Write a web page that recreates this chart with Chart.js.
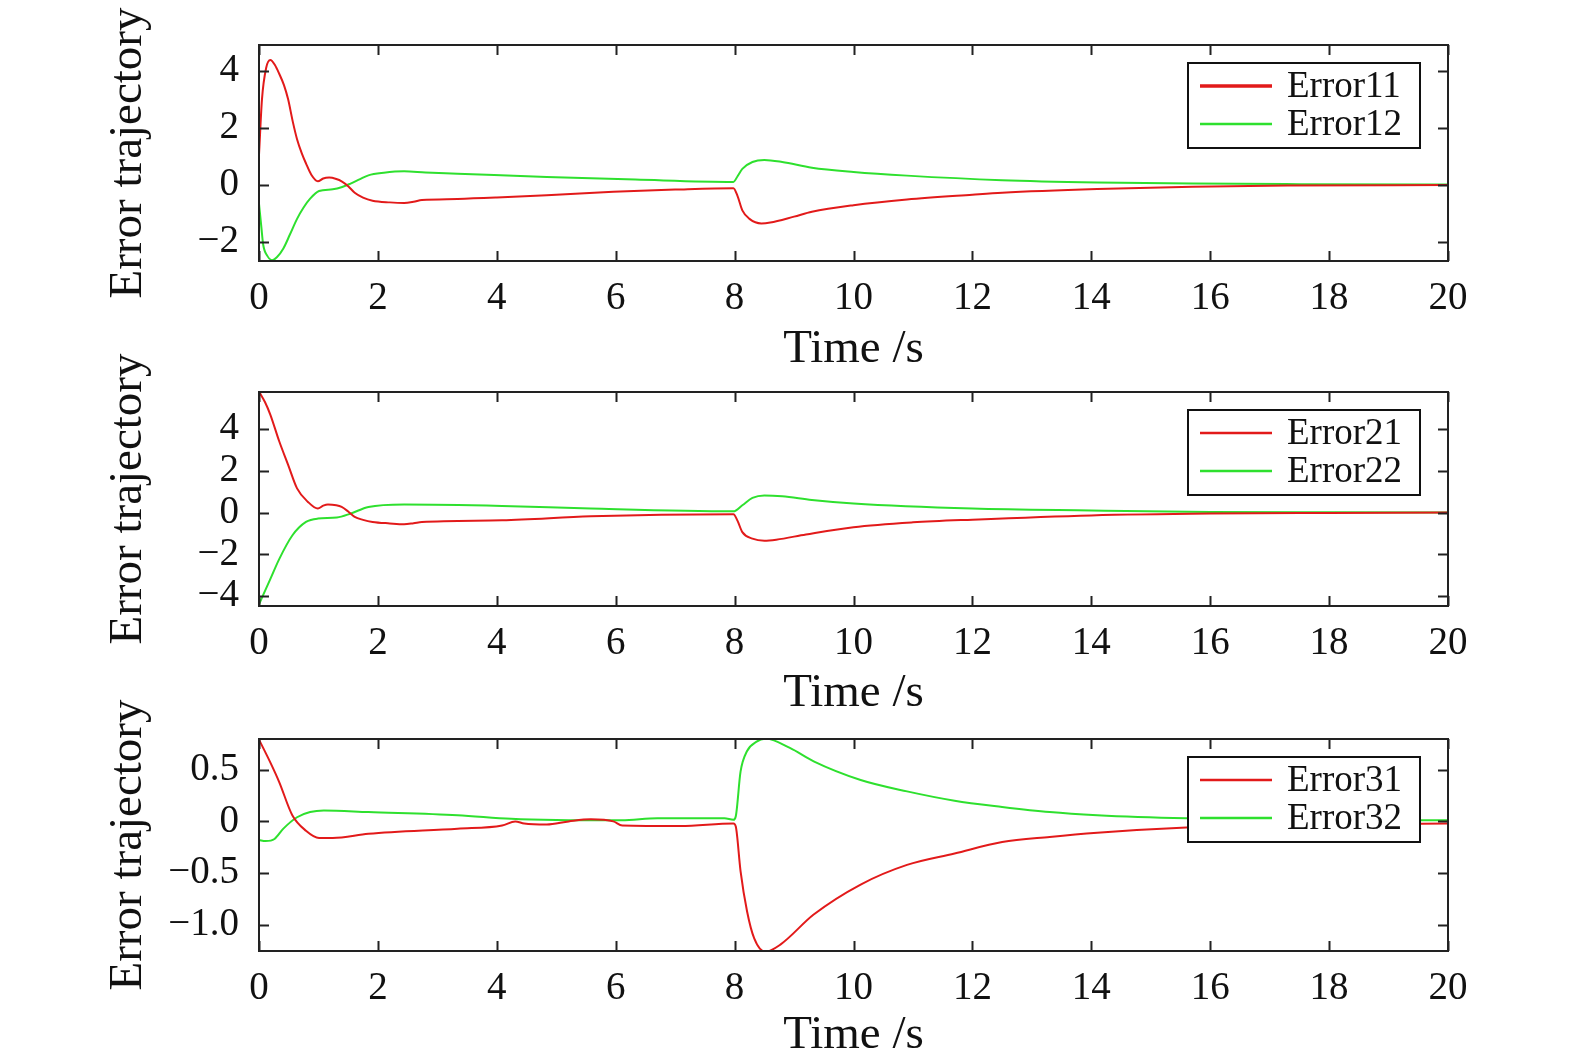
<!DOCTYPE html>
<html>
<head>
<meta charset="utf-8">
<script src="https://cdn.jsdelivr.net/npm/chart.js@4.4.0/dist/chart.umd.min.js"></script>
<style>
  html, body { margin: 0; padding: 0; background: #ffffff; }
  #wrap { position: relative; width: 1575px; height: 1058px; overflow: hidden; background: #fff; }
  canvas { position: absolute; left: 0; }
</style>
</head>
<body>
<div id="wrap">
  <canvas id="c1" width="1575" height="380" style="top:0px"></canvas>
  <canvas id="c2" width="1575" height="380" style="top:347px"></canvas>
  <canvas id="c3" width="1575" height="370" style="top:694px"></canvas>
</div>
<script>
// ---------------- DATA ----------------
const xTickLabels = ["0","2","4","6","8","10","12","14","16","18","20"];
const seriesNames1 = ["Error11", "Error12"];
const seriesNames2 = ["Error21", "Error22"];
const seriesNames3 = ["Error31", "Error32"];

const t11 = [0,0.05,0.12,0.19,0.27,0.34,0.42,0.49,0.57,0.64,0.72,0.79,0.88,0.99,1.08,1.18,1.3,1.39,1.5,1.61,1.75,1.91,2.2,2.44,2.6,2.74,3.34,4.0,4.84,5.96,7.0,7.98,8.05,8.13,8.25,8.45,8.6,9.0,9.3,10.0,10.9,12.0,12.5,14.1,15.7,17.3,20];
const e11 = [1.05,3.0,4.1,4.38,4.2,3.9,3.5,3.0,2.2,1.6,1.1,0.75,0.35,0.12,0.22,0.25,0.2,0.12,-0.05,-0.28,-0.45,-0.56,-0.62,-0.64,-0.6,-0.54,-0.5,-0.45,-0.37,-0.25,-0.17,-0.12,-0.4,-0.9,-1.2,-1.36,-1.33,-1.12,-0.95,-0.72,-0.52,-0.35,-0.28,-0.15,-0.07,-0.03,-0.01];

const t12 = [0,0.04,0.07,0.14,0.22,0.3,0.41,0.52,0.64,0.75,0.86,1.01,1.24,1.4,1.54,1.7,1.84,2.1,2.44,2.8,3.34,4.84,6.33,7.98,8.05,8.13,8.3,8.5,8.8,9.3,10.0,10.9,12.5,14.1,15.7,17.5,20];
const e12 = [-0.67,-1.5,-2.1,-2.5,-2.65,-2.55,-2.24,-1.75,-1.2,-0.8,-0.49,-0.22,-0.16,-0.08,0.04,0.2,0.33,0.42,0.47,0.43,0.39,0.27,0.18,0.1,0.3,0.56,0.8,0.87,0.8,0.6,0.45,0.32,0.16,0.08,0.04,0.02,0.01];

const t21 = [0,0.1,0.19,0.34,0.49,0.64,0.82,0.99,1.08,1.16,1.3,1.39,1.5,1.61,1.75,1.91,2.2,2.44,2.6,2.74,4.09,5.58,7.98,8.05,8.13,8.3,8.5,8.7,9.2,10,11,12,14,16,18,20];
const e21 = [5.8,5.3,4.7,3.42,2.29,1.16,0.52,0.19,0.33,0.39,0.35,0.27,0.05,-0.21,-0.35,-0.45,-0.52,-0.56,-0.51,-0.45,-0.37,-0.18,-0.08,-0.4,-0.94,-1.25,-1.35,-1.3,-1.05,-0.7,-0.47,-0.34,-0.14,-0.05,-0.02,0];

const t22 = [0,0.19,0.34,0.56,0.79,0.99,1.31,1.54,1.84,2.44,4.09,5.58,7.98,8.13,8.3,8.5,8.8,9.3,10,12,14,16,18,20];
const e22 = [-4.4,-3.19,-2.23,-1.1,-0.45,-0.29,-0.24,-0.05,0.27,0.39,0.32,0.19,0.06,0.35,0.7,0.82,0.78,0.6,0.43,0.19,0.1,0.03,0.01,0];

const t31 = [0,0.19,0.34,0.56,0.79,1.01,1.24,1.84,3.34,4.09,4.31,4.46,4.84,5.21,5.58,5.96,6.11,7.09,7.98,8.02,8.1,8.21,8.33,8.52,8.77,9.33,10.12,10.9,11.7,12.5,13.3,14.1,15.6,17.5,20];
const e31 = [0.79,0.57,0.38,0.06,-0.09,-0.16,-0.16,-0.12,-0.07,-0.04,0,-0.02,-0.03,0.0,0.02,0.0,-0.04,-0.045,-0.02,-0.05,-0.48,-0.87,-1.13,-1.26,-1.19,-0.9,-0.61,-0.42,-0.31,-0.2,-0.15,-0.11,-0.06,-0.03,-0.02];

const t32 = [0,0.11,0.26,0.41,0.64,0.86,1.09,1.84,3.34,4.24,5.0,6.1,6.7,7.83,7.98,8.02,8.1,8.21,8.37,8.53,8.93,9.33,10.12,10.9,11.7,12.5,13.3,14.1,15.6,17.5,20];
const e32 = [-0.18,-0.19,-0.17,-0.07,0.04,0.09,0.105,0.09,0.06,0.025,0.013,0.01,0.03,0.03,0.015,0.05,0.48,0.68,0.77,0.8,0.71,0.58,0.4,0.29,0.2,0.14,0.09,0.06,0.03,0.015,0.01];

// ---------------- STYLE / HELPERS ----------------
const RED = '#e21a1a';
const GREEN = '#2ee02e';
const FONT = "'Liberation Serif', 'DejaVu Serif', serif";
const MINUS = '\u2212';

function pts(t, v) { return t.map((x, i) => ({ x: x, y: v[i] })); }

function fmtInt(v) { return v < 0 ? MINUS + Math.abs(v) : String(v); }
function fmtDec(v) {
  if (Math.abs(v) < 1e-9) return '0';
  const s = Math.abs(v).toFixed(1);
  return v < 0 ? MINUS + s : s;
}

const frameTicks = {
  id: 'frameTicks',
  afterDraw(chart) {
    const { ctx, chartArea: a, scales } = chart;
    const L = 10;
    ctx.save();
    ctx.strokeStyle = '#222';
    ctx.lineWidth = 2;
    ctx.beginPath();
    scales.x.ticks.forEach(tk => {
      const px = Math.round(scales.x.getPixelForValue(tk.value)) + 0.5;
      ctx.moveTo(px, a.top); ctx.lineTo(px, a.top + L);
      ctx.moveTo(px, a.bottom); ctx.lineTo(px, a.bottom - L);
    });
    scales.y.ticks.forEach(tk => {
      const py = Math.round(scales.y.getPixelForValue(tk.value)) + 0.5;
      ctx.moveTo(a.left, py); ctx.lineTo(a.left + L, py);
      ctx.moveTo(a.right, py); ctx.lineTo(a.right - L, py);
    });
    ctx.stroke();
    ctx.strokeRect(a.left, a.top, a.right - a.left, a.bottom - a.top);
    ctx.restore();
  }
};

const boxLegend = {
  id: 'boxLegend',
  afterDraw(chart) {
    const { ctx, chartArea: a } = chart;
    const w = 232, h = 85;
    const x0 = a.right - 28 - w, y0 = a.top + 18;
    ctx.save();
    ctx.fillStyle = '#fff';
    ctx.fillRect(x0, y0, w, h);
    ctx.strokeStyle = '#111';
    ctx.lineWidth = 2;
    ctx.strokeRect(x0, y0, w, h);
    const rows = [y0 + 23, y0 + 61];
    chart.data.datasets.forEach((ds, i) => {
      ctx.strokeStyle = ds.borderColor;
      ctx.lineWidth = i === 0 && chart.canvas.id === 'c1' ? 3.5 : 2.5;
      ctx.beginPath();
      ctx.moveTo(x0 + 12, rows[i]);
      ctx.lineTo(x0 + 84, rows[i]);
      ctx.stroke();
      ctx.fillStyle = '#111';
      ctx.font = '37px ' + FONT;
      ctx.textBaseline = 'middle';
      ctx.textAlign = 'left';
      ctx.fillText(ds.label, x0 + 99, rows[i] + 1);
    });
    ctx.restore();
  }
};

function makePanel(id, names, sA, sB, yMin, yMax, yStep, yFmt, plotTop, plotBottom, canvasH, titlePad) {
  const ctx = document.getElementById(id);
  return new Chart(ctx, {
    type: 'line',
    data: {
      datasets: [
        { label: names[0], data: sA, borderColor: RED, borderWidth: 2, pointRadius: 0,
          cubicInterpolationMode: 'monotone', fill: false },
        { label: names[1], data: sB, borderColor: GREEN, borderWidth: 2, pointRadius: 0,
          cubicInterpolationMode: 'monotone', fill: false }
      ]
    },
    options: {
      responsive: false,
      animation: false,
      devicePixelRatio: 1,
      layout: { padding: { top: plotTop, right: 127, left: 0, bottom: 0 } },
      plugins: { legend: { display: false }, tooltip: { enabled: false } },
      scales: {
        x: {
          type: 'linear', min: 0, max: 20,
          grid: { display: false, drawTicks: false },
          border: { display: false },
          ticks: {
            stepSize: 2, padding: 14, color: '#111', maxRotation: 0,
            font: { family: FONT, size: 39 },
            callback: (v) => xTickLabels[Math.round(v / 2)]
          },
          title: { display: true, text: 'Time /s', color: '#111',
            font: { family: FONT, size: 47, lineHeight: 1 }, padding: { top: 0, bottom: titlePad } },
          afterFit: (s) => { s.height = canvasH - plotBottom; }
        },
        y: {
          type: 'linear', min: yMin, max: yMax,
          grid: { display: false, drawTicks: false },
          border: { display: false },
          ticks: {
            stepSize: yStep, includeBounds: false, padding: 20, color: '#111',
            font: { family: FONT, size: 39 },
            callback: yFmt
          },
          title: { display: true, text: 'Error trajectory', color: '#111',
            font: { family: FONT, size: 47, lineHeight: 1 }, padding: { top: 105, bottom: 0 } },
          afterFit: (s) => { s.width = 259; }
        }
      }
    },
    plugins: [frameTicks, boxLegend]
  });
}

makePanel('c1', seriesNames1, pts(t11, e11), pts(t12, e12), -2.68, 4.91, 2, fmtInt, 45, 261, 380, 7);
makePanel('c2', seriesNames2, pts(t21, e21), pts(t22, e22), -4.48, 5.78, 2, fmtInt, 45, 259, 380, 10);
makePanel('c3', seriesNames3, pts(t31, e31), pts(t32, e32), -1.252, 0.796, 0.5, fmtDec, 45, 257, 370, 5);
</script>
</body>
</html>
